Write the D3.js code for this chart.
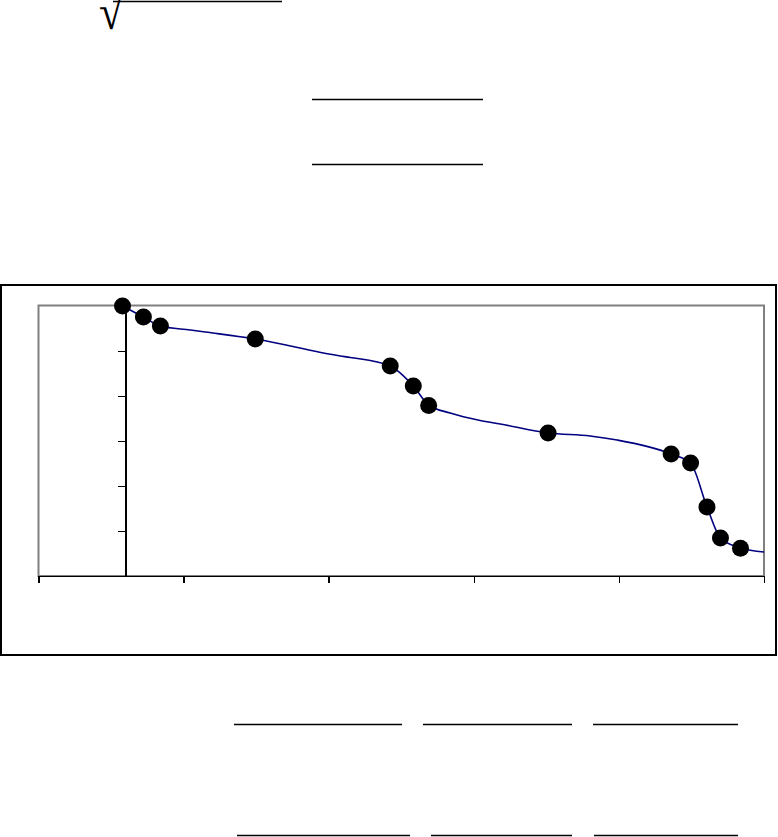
<!DOCTYPE html>
<html>
<head>
<meta charset="utf-8">
<script src="https://cdn.jsdelivr.net/npm/d3@7/dist/d3.min.js"></script>
<style>
  html, body { margin: 0; padding: 0; background: #fff; }
  svg { display: block; }
</style>
</head>
<body>
<svg id="chart" width="778" height="837"></svg>
<script>
// ---- data ----
const markerX = [0.579, 0.723, 0.840, 1.494, 2.424, 2.583, 2.689, 3.512, 4.360, 4.494, 4.607, 4.700, 4.838];
const markerY = [6.000, 5.756, 5.556, 5.267, 4.667, 4.222, 3.789, 3.178, 2.711, 2.511, 1.533, 0.844, 0.616];
const lineX = [0.579, 0.723, 0.840, 1.047, 1.150, 1.494, 2.080, 2.149, 2.424, 2.583, 2.689, 2.837, 3.044, 3.182, 3.512, 3.802, 3.988, 4.360, 4.494, 4.607, 4.700, 4.838, 5.000];
const lineY = [6.000, 5.756, 5.556, 5.467, 5.422, 5.267, 4.889, 4.856, 4.667, 4.222, 3.800, 3.622, 3.456, 3.378, 3.178, 3.111, 3.022, 2.711, 2.511, 1.533, 0.844, 0.622, 0.533];
const xTicks = [0, 1, 2, 3, 4, 5];
const yTicks = [0, 1, 2, 3, 4, 5, 6];
const yAxisAt = 0.6;

// ---- drawing ----
const svg = d3.select("#chart");
svg.append("rect").attr("width", 778).attr("height", 837).attr("fill", "#fff");

// radical at the top
svg.append("text").attr("transform", "translate(99,29) scale(1.7,1.9)")
  .attr("font-family", "'Liberation Serif', 'DejaVu Serif', serif")
  .attr("font-size", 26).attr("fill", "#000").text("√");
svg.append("line").attr("x1", 113).attr("x2", 282).attr("y1", 1.5).attr("y2", 1.5)
  .attr("stroke", "#000").attr("stroke-width", 1.5);

// fraction bars
const bars = [
  [312, 483, 99.5], [312, 483, 164.5],
  [234, 402, 724.5], [423, 572, 724.5], [593, 738, 724.5],
  [237, 410, 835.5], [431, 572, 835.5], [594, 738, 835.5]
];
svg.selectAll("line.bar").data(bars).join("line").attr("class", "bar")
  .attr("x1", d => d[0]).attr("x2", d => d[1]).attr("y1", d => d[2]).attr("y2", d => d[2])
  .attr("stroke", "#000").attr("stroke-width", 1.6);

// outer chart frame
svg.append("rect").attr("x", 1).attr("y", 285).attr("width", 775).attr("height", 370)
  .attr("fill", "#fff").attr("stroke", "#000").attr("stroke-width", 2);

const pLeft = 38.5, pRight = 764, pTop = 306, pBottom = 576;
const x = d3.scaleLinear().domain([0, 5]).range([pLeft, pRight]);
const y = d3.scaleLinear().domain([0, 6]).range([pBottom, pTop]);

// plot area
svg.append("rect").attr("x", pLeft).attr("y", pTop - 0.5).attr("width", pRight - pLeft).attr("height", pBottom - pTop + 0.5)
  .attr("fill", "#fff").attr("stroke", "#808080").attr("stroke-width", 2);

svg.append("clipPath").attr("id", "clip").append("rect")
  .attr("x", pLeft).attr("y", pTop - 12).attr("width", pRight - pLeft).attr("height", pBottom - pTop + 12);

// axes
const xAxis = svg.append("g").attr("transform", `translate(0,${pBottom})`)
  .call(d3.axisBottom(x).tickValues(xTicks).tickFormat("").tickSize(7).tickSizeOuter(0));
const yAxis = svg.append("g").attr("transform", `translate(${x(yAxisAt)},0)`)
  .call(d3.axisLeft(y).tickValues(yTicks).tickFormat("").tickSize(8).tickSizeOuter(0));
[xAxis, yAxis].forEach(g => {
  g.selectAll("path, line").attr("stroke", "#000").attr("stroke-width", 1.5).attr("shape-rendering", "crispEdges");
});

// line
const lineData = lineX.map((v, i) => [v, lineY[i]]);
svg.append("path").datum(lineData)
  .attr("clip-path", "url(#clip)")
  .attr("fill", "none").attr("stroke", "#000080").attr("stroke-width", 1.6)
  .attr("d", d3.line().x(d => x(d[0])).y(d => y(d[1])).curve(d3.curveMonotoneX));

// markers
svg.selectAll("circle.pt").data(markerX.map((v, i) => [v, markerY[i]])).join("circle")
  .attr("class", "pt")
  .attr("cx", d => x(d[0])).attr("cy", d => y(d[1])).attr("r", 8.5).attr("fill", "#000");
</script>
</body>
</html>
